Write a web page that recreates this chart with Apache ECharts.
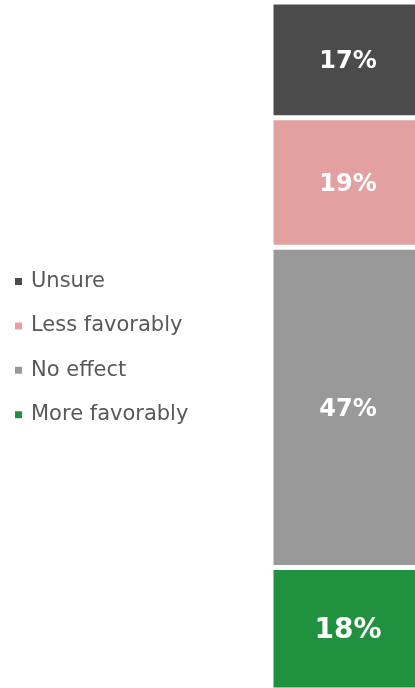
<!DOCTYPE html>
<html>
<head>
<meta charset="utf-8">
<script src="https://cdn.jsdelivr.net/npm/echarts@6/dist/echarts.min.js"></script>
<style>
html,body{margin:0;padding:0;background:#fff;overflow:hidden;}
#chart{width:415px;height:688px;}
</style>
</head>
<body>
<div id="chart"></div>
<script>
const categories = ['Response'];
const moreFavorably = [18];
const noEffect = [47];
const lessFavorably = [19];
const unsure = [17];
const legendOrder = ['Unsure', 'Less favorably', 'No effect', 'More favorably'];

const chart = echarts.init(document.getElementById('chart'));
const FONT = "'DejaVu Sans', Verdana, sans-serif";

function barSeries(name, data, color, fontSize) {
  return {
    name: name,
    type: 'bar',
    stack: 'total',
    data: data,
    barWidth: '100%',
    clip: false,
    itemStyle: { color: color, borderColor: '#ffffff', borderWidth: 2.5 },
    label: {
      show: true,
      position: 'inside',
      formatter: '{c}%',
      color: '#ffffff',
      fontWeight: 'bold',
      fontFamily: FONT,
      fontSize: fontSize,
      offset: [0, 2]
    },
    emphasis: { disabled: true },
    animation: false
  };
}

chart.setOption({
  animation: false,
  legend: {
    data: legendOrder,
    orient: 'vertical',
    left: 8,
    top: 266,
    itemWidth: 9,
    itemHeight: 9,
    itemGap: 23.4,
    icon: 'rect',
    textStyle: { fontFamily: FONT, fontSize: 21, color: '#595959', lineHeight: 21, padding: [0, 0, 0, 3] },
    selectedMode: false
  },
  grid: { left: 271, top: 2, width: 154, height: 688, outerBoundsMode: 'none', containLabel: false },
  xAxis: { type: 'category', data: categories, show: false },
  yAxis: { type: 'value', min: 0, max: 101, show: false },
  series: [
    barSeries('More favorably', moreFavorably, '#1f913f', 28),
    barSeries('No effect', noEffect, '#999999', 24),
    barSeries('Less favorably', lessFavorably, '#e3a0a0', 24),
    barSeries('Unsure', unsure, '#4b4b4b', 24)
  ]
});
</script>
</body>
</html>
